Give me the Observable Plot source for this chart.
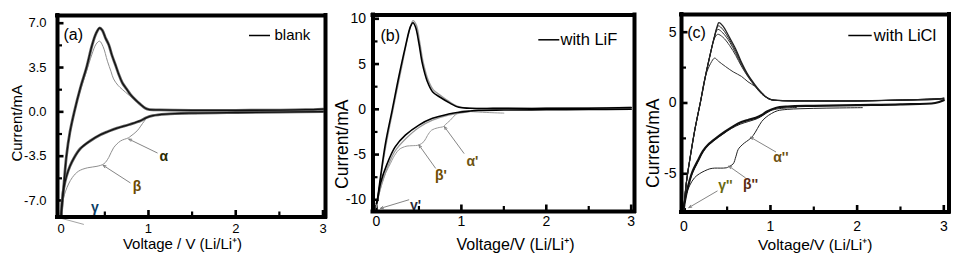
<!DOCTYPE html>
<html><head><meta charset="utf-8">
<script src="https://cdn.jsdelivr.net/npm/d3@7"></script>
<script src="https://cdn.jsdelivr.net/npm/@observablehq/plot@0.6"></script>
<style>
body{margin:0;background:#fff;}
#wrap{position:relative;width:960px;height:265px;overflow:hidden;background:#fff;}
#wrap svg{position:absolute;top:0;max-width:none;}
</style></head><body><div id="wrap"></div>
<script>
// ---------- tick values ----------
const xMajor = [0, 1, 2, 3];
const xMinor = [0.5, 1.5, 2.5];
const aYMajor = [-7, -3.5, 0, 3.5, 7];
const aYMinor = [-5.25, -1.75, 1.75, 5.25];
const bYMajor = [-10, -5, 0, 5, 10];
const bYMinor = [-7.5, -2.5, 2.5, 7.5];
const cYMajor = [-5, 0, 5];
const cYMinor = [-7.5, -2.5, 2.5];

// ---------- panel (a) blank : [voltage V, current mA] ----------
const aAnodicLater = [[0,-8.1],[0.03,-5.8],[0.06,-3.5],[0.1,-1.6],[0.15,0],[0.22,1.9],[0.29,3.5],[0.355,5.3],[0.4,6.2],[0.44,6.62],[0.47,6.45],[0.51,5.8],[0.545,5.3],[0.58,4.5],[0.62,3.74],[0.66,2.95],[0.7,2.3],[0.75,1.8],[0.79,1.4],[0.85,0.95],[0.91,0.58],[0.96,0.3],[1.0,0.19],[1.13,0.15],[1.5,0.12],[2.0,0.12],[2.5,0.14],[2.8,0.17],[3.0,0.22]];
const aAnodicFirst = [[0,-8.3],[0.06,-3.6],[0.15,-0.1],[0.22,1.7],[0.29,3.2],[0.35,4.5],[0.4,5.35],[0.44,5.58],[0.48,5.15],[0.53,4.0],[0.57,3.2],[0.6,2.6],[0.65,2.1],[0.7,1.77],[0.78,1.3],[0.85,0.9],[0.92,0.5],[1.0,0.2],[1.2,0.12],[1.6,0.1],[2.2,0.1],[2.7,0.13],[3.0,0.18]];
const aCathodicLater = [[3.0,0.02],[2.5,-0.02],[2.0,-0.05],[1.5,-0.1],[1.2,-0.18],[1.05,-0.3],[0.98,-0.45],[0.91,-0.7],[0.78,-1.0],[0.64,-1.28],[0.52,-1.6],[0.45,-1.8],[0.33,-2.3],[0.22,-2.9],[0.15,-3.6],[0.1,-4.3],[0.06,-5.1],[0.03,-6.0],[0.01,-7.1],[0,-8.1]];
const aCathodicFirst = [[1.55,-0.15],[1.3,-0.2],[1.1,-0.25],[1.0,-0.35],[0.95,-0.75],[0.87,-1.5],[0.8,-1.9],[0.77,-2.05],[0.68,-2.3],[0.6,-2.84],[0.545,-3.6],[0.49,-4.1],[0.41,-4.3],[0.3,-4.42],[0.2,-4.68],[0.126,-5.2],[0.05,-6.26],[0.01,-7.4],[0,-8.3]];
const aArrows = [[1.1,-3.24,0.774,-2.15],[0.79,-5.6,0.48,-4.22]];
const aGammaLine = [[0.26,-8.89,-0.03,-8.35]];
const aLabels = [["α",1.175,-3.55,"#2b2b00"],["β",0.87,-5.87,"#6e4a00"],["γ",0.385,-7.58,"#0b3d66"]];

// ---------- panel (b) with LiF ----------
const bAnodicLater = [[0,-10.4],[0.01,-10.0],[0.05,-7.3],[0.106,-3.76],[0.185,-0.08],[0.263,3.6],[0.34,6.9],[0.4,9.13],[0.43,9.57],[0.46,9.1],[0.5,7.3],[0.54,5.08],[0.6,3.05],[0.66,1.95],[0.75,1.33],[0.87,0.66],[0.97,0.22],[1.1,0.12],[1.5,0.1],[2.0,0.1],[2.5,0.12],[3.0,0.2]];
const bAnodicGray = [[0,-10.8],[0.1,-4.6],[0.2,0.2],[0.3,4.8],[0.38,8.4],[0.43,9.8],[0.47,9.3],[0.51,7.4],[0.55,5.2],[0.61,3.2],[0.67,2.15],[0.76,1.5],[0.85,0.9],[0.95,0.35],[1.05,0.15],[1.3,0.1],[2.0,0.12],[3.0,0.2]];
const bCathodicLater = [[3.0,0.02],[2.5,-0.02],[2.0,-0.05],[1.5,-0.08],[1.2,-0.12],[1.09,-0.2],[0.95,-0.35],[0.85,-0.52],[0.66,-1.0],[0.5,-1.74],[0.34,-2.86],[0.22,-4.15],[0.126,-6.0],[0.047,-8.2],[0.01,-10.1],[0,-10.4]];
const bCathodicGray = [[1.1,-0.25],[0.85,-0.65],[0.66,-1.2],[0.5,-2.0],[0.35,-3.2],[0.22,-4.6],[0.13,-6.4],[0.05,-8.6],[0,-10.8]];
const bCathodicFirst = [[1.5,-0.42],[1.3,-0.35],[1.1,-0.25],[1.0,-0.2],[0.93,-0.6],[0.87,-1.2],[0.81,-1.7],[0.79,-1.9],[0.72,-2.05],[0.65,-2.3],[0.6,-2.9],[0.56,-3.55],[0.5,-3.94],[0.42,-4.02],[0.36,-4.06],[0.3,-4.25],[0.26,-4.5],[0.2,-5.3],[0.165,-5.97],[0.11,-7.0],[0.067,-8.18],[0.03,-9.4],[0.01,-10.2],[0,-10.8]];
const bArrows = [[1.03,-4.86,0.80,-1.92],[0.695,-6.5,0.5,-3.94],[0.38,-10.0,0.047,-10.94]];
const bLabels = [["α'",1.13,-5.8,"#6e5410"],["β'",0.76,-7.26,"#6e4c00"],["γ'",0.46,-10.6,"#2a2a3a"]];

// ---------- panel (c) with LiCl ----------
const cAnodic1 = [[0,-7.5],[0.03,-5.6],[0.08,-3.6],[0.13,-1.8],[0.19,0],[0.25,1.9],[0.3,3.3],[0.35,4.6],[0.385,5.4],[0.405,5.68],[0.45,5.45],[0.53,4.6],[0.6,3.8],[0.66,2.95],[0.74,2.0],[0.82,1.3],[0.9,0.7],[0.95,0.42],[1.01,0.24],[1.1,0.18],[1.5,0.15],[2.0,0.15],[2.5,0.2],[2.9,0.25],[3.0,0.35]];
const cAnodic2 = [[0,-7.5],[0.03,-5.6],[0.08,-3.6],[0.13,-1.8],[0.19,0],[0.25,1.9],[0.3,3.3],[0.35,4.6],[0.38,5.25],[0.40,5.45],[0.45,5.2],[0.53,4.45],[0.6,3.65],[0.66,2.85],[0.74,1.95],[0.82,1.25],[0.9,0.68],[1.0,0.26],[1.1,0.18],[1.5,0.15],[2.0,0.15],[2.5,0.2],[3.0,0.33]];
const cAnodic3 = [[0,-7.5],[0.03,-5.6],[0.08,-3.6],[0.13,-1.8],[0.19,0],[0.25,1.9],[0.3,3.3],[0.35,4.6],[0.375,5.05],[0.395,5.2],[0.45,4.95],[0.53,4.3],[0.6,3.5],[0.66,2.75],[0.74,1.9],[0.82,1.22],[0.9,0.65],[1.0,0.25],[1.1,0.17],[1.5,0.14],[2.0,0.14],[3.0,0.3]];
const cAnodic4 = [[0,-7.5],[0.03,-5.6],[0.08,-3.6],[0.13,-1.8],[0.19,0],[0.25,1.9],[0.3,3.3],[0.35,4.5],[0.39,4.85],[0.45,4.65],[0.53,4.05],[0.6,3.35],[0.66,2.65],[0.74,1.85],[0.82,1.2],[0.9,0.62],[1.0,0.24],[1.1,0.17],[1.5,0.14],[2.0,0.14],[3.0,0.3]];
const cAnodic5 = [[0,-7.5],[0.03,-5.6],[0.08,-3.6],[0.13,-1.8],[0.19,0],[0.25,1.9],[0.31,2.8],[0.356,3.17],[0.4,2.95],[0.48,2.58],[0.57,2.2],[0.665,1.88],[0.74,1.5],[0.82,1.18],[0.9,0.75],[0.97,0.31],[1.05,0.2],[1.5,0.15],[2.0,0.15],[3.0,0.28]];
const cCathodicLater = [[3.0,0.2],[2.9,0.0],[2.5,-0.1],[2.0,-0.15],[1.5,-0.2],[1.2,-0.25],[1.06,-0.35],[0.96,-0.6],[0.9,-0.85],[0.83,-1.05],[0.74,-1.2],[0.665,-1.35],[0.57,-1.65],[0.47,-2.05],[0.38,-2.45],[0.28,-2.95],[0.22,-3.4],[0.16,-4.1],[0.1,-4.85],[0.066,-5.5],[0.03,-6.4],[0,-7.4]];
const cCathodic2 = [[1.3,-0.32],[1.1,-0.4],[1.0,-0.55],[0.92,-0.85],[0.85,-1.1],[0.75,-1.3],[0.65,-1.5],[0.55,-1.8],[0.45,-2.2],[0.35,-2.65],[0.25,-3.2],[0.16,-4.2],[0.1,-4.95],[0.05,-5.9],[0,-7.4]];
const cCathodicFirst = [[2.06,-0.33],[1.8,-0.35],[1.5,-0.38],[1.2,-0.45],[1.08,-0.55],[1.01,-0.75],[0.95,-1.0],[0.9,-1.3],[0.85,-1.8],[0.8,-2.3],[0.75,-2.6],[0.7,-2.82],[0.65,-3.1],[0.626,-3.3],[0.6,-3.8],[0.57,-4.3],[0.52,-4.5],[0.49,-4.58],[0.42,-4.6],[0.356,-4.6],[0.3,-4.65],[0.24,-4.8],[0.18,-5.0],[0.124,-5.28],[0.07,-5.8],[0.028,-6.45],[0.01,-7.0],[0,-7.5]];
const cArrows = [[1.06,-3.45,0.77,-2.42],[0.71,-5.28,0.52,-4.46],[0.385,-6.22,0.058,-7.39]];
const cLabels = [["α''",1.12,-3.87,"#6e5010"],["β''",0.77,-5.75,"#5a2a10"],["γ''",0.48,-5.82,"#6a6a10"]];

// ---------- texts ----------
const yTitle = "Current/mA";
const xTitleA = "Voltage / V (Li/Li⁺)";
const xTitleBC = "Voltage/V (Li/Li⁺)";
const legendA = "blank", legendB = "with LiF", legendC = "with LiCl";

const FONT = '"Liberation Sans", Arial, Helvetica, sans-serif';

function panel(cfg) {
  const height = 265;
  const {width, mL, mR, mT, mB, xDom, yDom} = cfg;
  const iw = width - mL - mR, ih = height - mT - mB;
  const kx = iw / (xDom[1] - xDom[0]), ky = ih / (yDom[1] - yDom[0]);
  const xOf = p => xDom[0] + (p - mL) / kx;
  const yOf = p => yDom[1] - (p - mT) / ky;
  const X = d => d[0], Y = d => d[1];
  const marks = [];
  // inward ticks
  marks.push(Plot.ruleX(xMajor, {x: d => d, y1: yDom[0], y2: yDom[0] + 6.5 / ky, stroke: "#000", strokeWidth: 2.6}));
  marks.push(Plot.ruleX(xMinor, {x: d => d, y1: yDom[0], y2: yDom[0] + 5 / ky, stroke: "#000", strokeWidth: 2.2}));
  marks.push(Plot.ruleY(cfg.yMajor, {y: d => d, x1: xDom[0], x2: xDom[0] + 6.5 / kx, stroke: "#000", strokeWidth: 2.6}));
  marks.push(Plot.ruleY(cfg.yMinor, {y: d => d, x1: xDom[0], x2: xDom[0] + 5 / kx, stroke: "#000", strokeWidth: 2.2}));
  // curves
  for (const c of cfg.curves) {
    marks.push(Plot.line(c.data, {x: X, y: Y, stroke: c.stroke, strokeWidth: c.w, curve: "catmull-rom"}));
  }
  // annotation arrows & labels
  marks.push(Plot.arrow(cfg.arrows, {x1: d => d[0], y1: d => d[1], x2: d => d[2], y2: d => d[3], stroke: "#777", strokeWidth: 0.9, headLength: 5, headAngle: 45}));
  if (cfg.extraLines) marks.push(Plot.link(cfg.extraLines, {x1: d => d[0], y1: d => d[1], x2: d => d[2], y2: d => d[3], stroke: "#999", strokeWidth: 0.9}));
  for (const l of cfg.labels) {
    marks.push(Plot.text([l], {x: d => d[1], y: d => d[2], text: d => d[0], fill: l[3], fontSize: 14, fontWeight: "bold"}));
  }
  // legend
  const lg = cfg.legend;
  marks.push(Plot.ruleY([yOf(lg.y)], {y: d => d, x1: xOf(lg.x1), x2: xOf(lg.x2), stroke: "#000", strokeWidth: 1.5}));
  marks.push(Plot.text([lg.text], {x: xOf(lg.tx), y: yOf(lg.y), text: d => d, textAnchor: "start", lineAnchor: "middle", fontSize: lg.fs, fill: "#000"}));
  // panel letter
  marks.push(Plot.text([cfg.letter], {frameAnchor: "top-left", dx: cfg.letterDx, dy: cfg.letterDy, textAnchor: "start", lineAnchor: "middle", fontSize: 16, fill: "#000"}));
  // axis titles
  marks.push(Plot.text([yTitle], {frameAnchor: "left", rotate: -90, dx: cfg.yt.dx, dy: cfg.yt.dy, textAnchor: "middle", lineAnchor: "middle", fontSize: cfg.yt.fs, fill: "#000"}));
  marks.push(Plot.text([cfg.xt.text], {frameAnchor: "bottom", dx: cfg.xt.dx, dy: cfg.xt.dy, textAnchor: "middle", lineAnchor: "middle", fontSize: cfg.xt.fs, fill: "#000"}));
  // thick box frame drawn as four rules on the domain edges
  marks.push(Plot.ruleX(xDom, {x: d => d, stroke: "#000", strokeWidth: 4, strokeLinecap: "square"}));
  marks.push(Plot.ruleY(yDom, {y: d => d, stroke: "#000", strokeWidth: 4, strokeLinecap: "square"}));
  const svg = Plot.plot({
    width, height, marginLeft: mL, marginRight: mR, marginTop: mT, marginBottom: mB,
    x: {domain: xDom, ticks: xMajor, tickSize: 0, tickPadding: cfg.xPad, tickFormat: d => String(d), label: null},
    y: {domain: yDom, ticks: cfg.yMajor, tickSize: 0, tickPadding: cfg.yPad, tickFormat: cfg.yFmt, label: null},
    style: {fontFamily: FONT, fontSize: cfg.tickFs + "px", color: "#000", background: "transparent", overflow: "visible"},
    marks
  });
  svg.style.left = cfg.left + "px";
  svg.style.width = width + "px";
  svg.style.height = height + "px";
  return svg;
}

const wrap = document.getElementById("wrap");

wrap.appendChild(panel({
  left: 0, width: 330, mL: 57, mR: 5, mT: 15, mB: 48.5,
  xDom: [-0.0424, 3.0286], yDom: [-8.303, 7.608],
  yMajor: aYMajor, yMinor: aYMinor, yFmt: d => d.toFixed(1), tickFs: 13, xPad: 7, yPad: 11,
  curves: [
    {data: aAnodicFirst, stroke: "#8f8f8f", w: 1},
    {data: aCathodicFirst, stroke: "#8f8f8f", w: 1},
    {data: aAnodicLater, stroke: "#666", w: 2.8},
    {data: aCathodicLater, stroke: "#666", w: 2.8},
    {data: aAnodicLater, stroke: "#111", w: 1.3},
    {data: aCathodicLater, stroke: "#111", w: 1.3}
  ],
  arrows: aArrows, extraLines: aGammaLine, labels: aLabels,
  legend: {x1: 249, x2: 270, y: 35, tx: 274, text: legendA, fs: 15},
  letter: "(a)", letterDx: 6, letterDy: 19,
  yt: {dx: -40, dy: 7, fs: 15},
  xt: {text: xTitleA, dx: -9, dy: 27, fs: 15}
}));

wrap.appendChild(panel({
  left: 330, width: 310, mL: 42.5, mR: 6, mT: 14.5, mB: 54,
  xDom: [-0.041, 3.039], yDom: [-11.29, 10.42],
  yMajor: bYMajor, yMinor: bYMinor, yFmt: d => String(d), tickFs: 14, xPad: 5, yPad: 7,
  curves: [
    {data: bAnodicGray, stroke: "#999", w: 1.3},
    {data: bCathodicGray, stroke: "#999", w: 1.2},
    {data: bCathodicFirst, stroke: "#999", w: 1},
    {data: bAnodicLater, stroke: "#000", w: 1.6},
    {data: bCathodicLater, stroke: "#000", w: 1.6}
  ],
  arrows: bArrows, labels: bLabels,
  legend: {x1: 208.3, x2: 229.3, y: 39.3, tx: 230, text: legendB, fs: 16.5},
  letter: "(b)", letterDx: 7.5, letterDy: 20.5,
  yt: {dx: -31, dy: 31, fs: 17.5},
  xt: {text: xTitleBC, dx: 11.75, dy: 33, fs: 16}
}));

wrap.appendChild(panel({
  left: 640, width: 320, mL: 41, mR: 11.5, mT: 14, mB: 53.5,
  xDom: [-0.0265, 3.06], yDom: [-7.70, 6.25],
  yMajor: cYMajor, yMinor: cYMinor, yFmt: d => String(d), tickFs: 14, xPad: 9, yPad: 5,
  curves: [
    {data: cAnodic5, stroke: "#333", w: 1},
    {data: cAnodic4, stroke: "#333", w: 1},
    {data: cAnodic3, stroke: "#333", w: 1},
    {data: cAnodic2, stroke: "#222", w: 1},
    {data: cAnodic1, stroke: "#222", w: 1.3},
    {data: cCathodicFirst, stroke: "#222", w: 1},
    {data: cCathodic2, stroke: "#222", w: 1},
    {data: cCathodicLater, stroke: "#111", w: 2.2}
  ],
  arrows: cArrows, labels: cLabels,
  legend: {x1: 208.3, x2: 231.7, y: 35, tx: 233.3, text: legendC, fs: 16.5},
  letter: "(c)", letterDx: 5.7, letterDy: 18.5,
  yt: {dx: -28, dy: 30, fs: 17.5},
  xt: {text: xTitleBC, dx: 0, dy: 33.5, fs: 15.5}
}));
</script>
</body></html>
